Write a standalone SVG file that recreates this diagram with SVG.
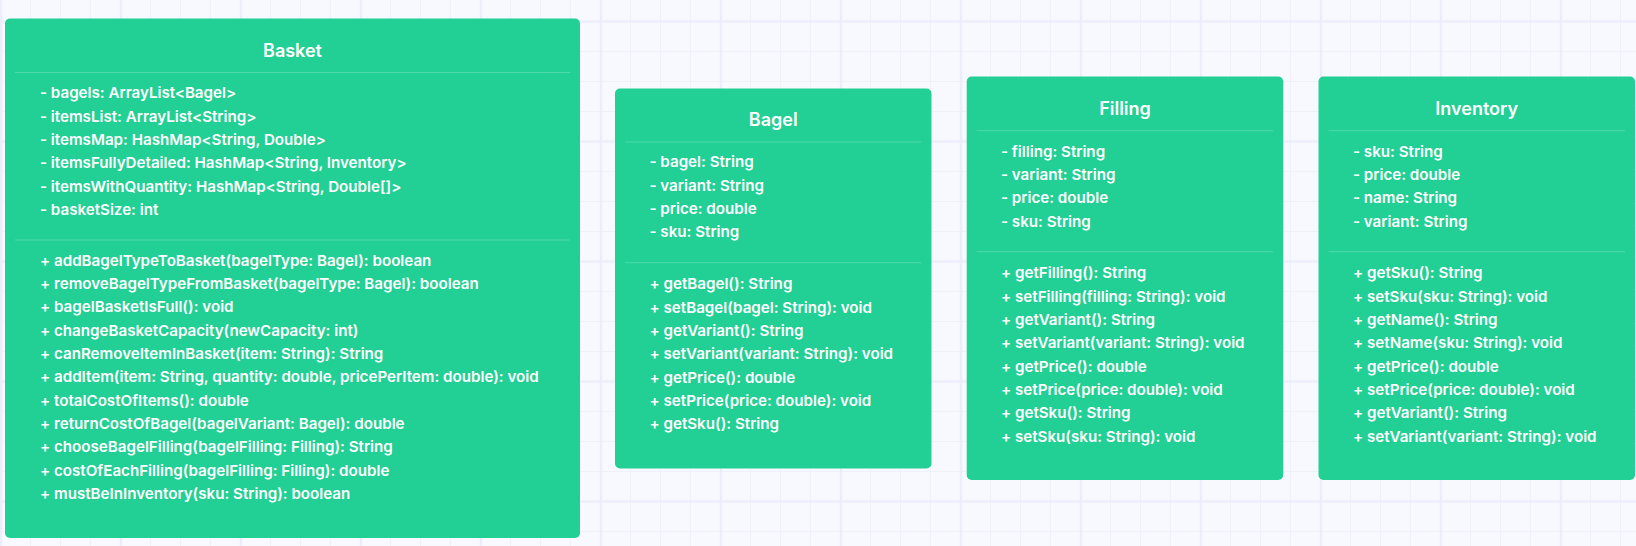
<svg xmlns="http://www.w3.org/2000/svg" width="1636" height="546" viewBox="0 0 1636 546">
<defs>
<pattern id="gs" width="30" height="30" patternUnits="userSpaceOnUse" x="0" y="21"><path d="M0.5 0V30M0 0.5H30" stroke="#EFF0FA" stroke-width="1" fill="none"/></pattern>
<pattern id="gl" width="120" height="120" patternUnits="userSpaceOnUse" x="-59" y="-38.5"><path d="M60 0V120M0 60H120" stroke="#ECEDFB" stroke-width="2.5" fill="none"/></pattern>
<style>
.box{fill:#22CF94}
.div{stroke:#4FD9A9;stroke-width:1}
.t{font-family:Inter,"Liberation Sans",sans-serif;fill:#FFFFFF}
.ttl{font-size:18px;font-weight:600;text-anchor:middle}
.m{font-size:15.15px;font-weight:600}
</style>
</defs>
<rect width="1636" height="546" fill="#F8F9FF"/>
<rect width="1636" height="546" fill="url(#gs)"/>
<rect width="1636" height="546" fill="url(#gl)"/>
<g id="connectors"></g>
<g id="node-basket">
<rect class="box" x="5" y="18.5" width="575" height="519.5" rx="5"/>
<text class="t ttl" x="292.5" y="56.5">Basket</text>
<line class="div" x1="15" y1="72.5" x2="570" y2="72.5"/>
<text class="t m" x="40" y="98.3">- bagels: ArrayList&lt;Bagel&gt;</text>
<text class="t m" x="40" y="121.7">- itemsList: ArrayList&lt;String&gt;</text>
<text class="t m" x="40" y="145">- itemsMap: HashMap&lt;String, Double&gt;</text>
<text class="t m" x="40" y="168.3">- itemsFullyDetailed: HashMap&lt;String, Inventory&gt;</text>
<text class="t m" x="40" y="191.7">- itemsWithQuantity: HashMap&lt;String, Double[]&gt;</text>
<text class="t m" x="40" y="215">- basketSize: int</text>
<line class="div" x1="15" y1="240" x2="570" y2="240"/>
<text class="t m" x="40" y="265.7">+ addBagelTypeToBasket(bagelType: Bagel): boolean</text>
<text class="t m" x="40" y="289">+ removeBagelTypeFromBasket(bagelType: Bagel): boolean</text>
<text class="t m" x="40" y="312.3">+ bagelBasketIsFull(): void</text>
<text class="t m" x="40" y="335.7">+ changeBasketCapacity(newCapacity: int)</text>
<text class="t m" x="40" y="359">+ canRemoveItemInBasket(item: String): String</text>
<text class="t m" x="40" y="382.3">+ addItem(item: String, quantity: double, pricePerItem: double): void</text>
<text class="t m" x="40" y="405.7">+ totalCostOfItems(): double</text>
<text class="t m" x="40" y="429">+ returnCostOfBagel(bagelVariant: Bagel): double</text>
<text class="t m" x="40" y="452.3">+ chooseBagelFilling(bagelFilling: Filling): String</text>
<text class="t m" x="40" y="475.7">+ costOfEachFilling(bagelFilling: Filling): double</text>
<text class="t m" x="40" y="499">+ mustBeInInventory(sku: String): boolean</text>
</g>
<g id="node-bagel">
<rect class="box" x="615" y="88.5" width="316.5" height="380" rx="5"/>
<text class="t ttl" x="773.2" y="126">Bagel</text>
<line class="div" x1="625" y1="142" x2="921.5" y2="142"/>
<text class="t m" x="649.5" y="167.3">- bagel: String</text>
<text class="t m" x="649.5" y="190.7">- variant: String</text>
<text class="t m" x="649.5" y="214">- price: double</text>
<text class="t m" x="649.5" y="237.3">- sku: String</text>
<line class="div" x1="625" y1="262.7" x2="921.5" y2="262.7"/>
<text class="t m" x="649.5" y="289.3">+ getBagel(): String</text>
<text class="t m" x="649.5" y="312.7">+ setBagel(bagel: String): void</text>
<text class="t m" x="649.5" y="336">+ getVariant(): String</text>
<text class="t m" x="649.5" y="359.3">+ setVariant(variant: String): void</text>
<text class="t m" x="649.5" y="382.7">+ getPrice(): double</text>
<text class="t m" x="649.5" y="406">+ setPrice(price: double): void</text>
<text class="t m" x="649.5" y="429.3">+ getSku(): String</text>
</g>
<g id="node-filling">
<rect class="box" x="966.7" y="76.5" width="316.5" height="403.5" rx="5"/>
<text class="t ttl" x="1125" y="115">Filling</text>
<line class="div" x1="976.7" y1="130.7" x2="1273.2" y2="130.7"/>
<text class="t m" x="1001" y="156.7">- filling: String</text>
<text class="t m" x="1001" y="180">- variant: String</text>
<text class="t m" x="1001" y="203.3">- price: double</text>
<text class="t m" x="1001" y="226.7">- sku: String</text>
<line class="div" x1="976.7" y1="251.7" x2="1273.2" y2="251.7"/>
<text class="t m" x="1001" y="278.3">+ getFilling(): String</text>
<text class="t m" x="1001" y="301.7">+ setFilling(filling: String): void</text>
<text class="t m" x="1001" y="325">+ getVariant(): String</text>
<text class="t m" x="1001" y="348.3">+ setVariant(variant: String): void</text>
<text class="t m" x="1001" y="371.7">+ getPrice(): double</text>
<text class="t m" x="1001" y="395">+ setPrice(price: double): void</text>
<text class="t m" x="1001" y="418.3">+ getSku(): String</text>
<text class="t m" x="1001" y="441.7">+ setSku(sku: String): void</text>
</g>
<g id="node-inventory">
<rect class="box" x="1318.5" y="76.5" width="316.5" height="403.5" rx="5"/>
<text class="t ttl" x="1476.7" y="115">Inventory</text>
<line class="div" x1="1328.5" y1="130.7" x2="1625" y2="130.7"/>
<text class="t m" x="1353" y="156.7">- sku: String</text>
<text class="t m" x="1353" y="180">- price: double</text>
<text class="t m" x="1353" y="203.3">- name: String</text>
<text class="t m" x="1353" y="226.7">- variant: String</text>
<line class="div" x1="1328.5" y1="251.7" x2="1625" y2="251.7"/>
<text class="t m" x="1353" y="278.3">+ getSku(): String</text>
<text class="t m" x="1353" y="301.7">+ setSku(sku: String): void</text>
<text class="t m" x="1353" y="325">+ getName(): String</text>
<text class="t m" x="1353" y="348.3">+ setName(sku: String): void</text>
<text class="t m" x="1353" y="371.7">+ getPrice(): double</text>
<text class="t m" x="1353" y="395">+ setPrice(price: double): void</text>
<text class="t m" x="1353" y="418.3">+ getVariant(): String</text>
<text class="t m" x="1353" y="441.7">+ setVariant(variant: String): void</text>
</g>
</svg>
